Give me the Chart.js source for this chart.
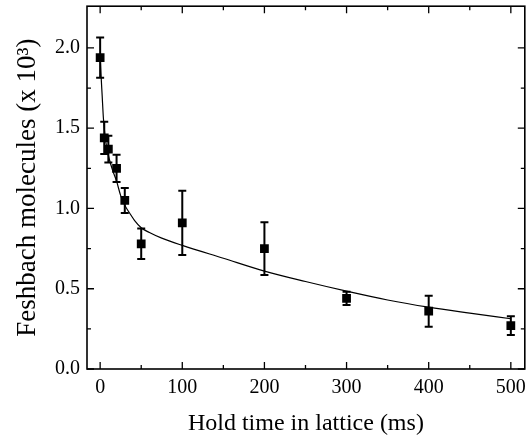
<!DOCTYPE html>
<html>
<head>
<meta charset="utf-8">
<script src="https://cdn.jsdelivr.net/npm/chart.js@4/dist/chart.umd.min.js"></script>
<style>
  html, body { margin: 0; padding: 0; background: #ffffff; }
  #wrap { width: 531px; height: 439px; }
</style>
</head>
<body>
<div id="wrap"><canvas id="c" width="531" height="439"></canvas></div>
<script>
// Measured data (hold time in ms, molecules in units of 10^3)
const holdTime  = [0, 5, 10, 20, 30, 50, 100, 200, 300, 400, 500];
const molecules = [1.94, 1.44, 1.37, 1.25, 1.05, 0.78, 0.91, 0.75, 0.44, 0.36, 0.27];
const errors    = [0.125, 0.10, 0.083, 0.085, 0.078, 0.095, 0.20, 0.164, 0.041, 0.097, 0.058];

// Fit curve
const fitTime  = [0, 1, 2.5, 4, 6, 8, 10, 15, 20, 25, 30, 36, 42, 50, 60, 75, 100, 150, 200, 250, 300, 350, 400, 450, 500];
const fitValue = [1.96, 1.84, 1.70, 1.56, 1.45, 1.38, 1.33, 1.24, 1.17, 1.08, 1.02, 0.97, 0.925, 0.88, 0.85, 0.815, 0.77, 0.69, 0.61, 0.545, 0.485, 0.43, 0.385, 0.348, 0.313];

// Axis ticks
const xMajorTicks = [0, 100, 200, 300, 400, 500];
const xMinorTicks = [50, 150, 250, 350, 450];
const yMajorTicks = [0, 0.5, 1.0, 1.5, 2.0];
const yMinorTicks = [0.25, 0.75, 1.25, 1.75];

const xLabel = 'Hold time in lattice (ms)';
const yLabel = 'Feshbach molecules (x 10\u00B3)';

const FONT = 'Liberation Serif, Times New Roman, serif';

const decorPlugin = {
  id: 'decor',
  beforeDatasetsDraw(chart) {
    const ctx = chart.ctx;
    const xs = chart.scales.x, ys = chart.scales.y;
    ctx.save();
    ctx.strokeStyle = '#000';
    ctx.lineWidth = 2;
    for (let i = 0; i < holdTime.length; i++) {
      const px = xs.getPixelForValue(holdTime[i]);
      const pt = ys.getPixelForValue(molecules[i] + errors[i]);
      const pb = ys.getPixelForValue(molecules[i] - errors[i]);
      ctx.beginPath();
      ctx.moveTo(px, pt); ctx.lineTo(px, pb);
      ctx.moveTo(px - 4, pt); ctx.lineTo(px + 4, pt);
      ctx.moveTo(px - 4, pb); ctx.lineTo(px + 4, pb);
      ctx.stroke();
    }
    ctx.restore();
  },
  afterDraw(chart) {
    const ctx = chart.ctx;
    const a = chart.chartArea;
    const xs = chart.scales.x, ys = chart.scales.y;
    ctx.save();
    ctx.strokeStyle = '#000';
    ctx.lineWidth = 1.6;
    ctx.strokeRect(a.left, a.top, a.right - a.left, a.bottom - a.top);
    ctx.lineWidth = 1.3;
    ctx.beginPath();
    const tick = (vals, len) => {
      vals.forEach(v => {
        const px = xs.getPixelForValue(v);
        ctx.moveTo(px, a.bottom); ctx.lineTo(px, a.bottom - len);
        ctx.moveTo(px, a.top); ctx.lineTo(px, a.top + len);
      });
    };
    const ytick = (vals, len) => {
      vals.forEach(v => {
        const py = ys.getPixelForValue(v);
        ctx.moveTo(a.left, py); ctx.lineTo(a.left + len, py);
        ctx.moveTo(a.right, py); ctx.lineTo(a.right - len, py);
      });
    };
    tick(xMajorTicks, 7); tick(xMinorTicks, 4);
    ytick(yMajorTicks, 7); ytick(yMinorTicks, 4);
    ctx.stroke();
    ctx.restore();
  }
};

new Chart(document.getElementById('c'), {
  type: 'scatter',
  data: {
    datasets: [
      {
        type: 'line',
        label: 'fit',
        data: fitTime.map((t, i) => ({ x: t, y: fitValue[i] })),
        borderColor: '#000',
        borderWidth: 1.2,
        pointRadius: 0,
        fill: false,
        cubicInterpolationMode: 'monotone'
      },
      {
        label: 'data',
        data: holdTime.map((t, i) => ({ x: t, y: molecules[i] })),
        pointStyle: 'rect',
        pointRadius: 6.2,
        pointHoverRadius: 6.2,
        backgroundColor: '#000',
        borderColor: '#000',
        borderWidth: 0
      }
    ]
  },
  options: {
    responsive: false,
    devicePixelRatio: 1,
    animation: false,
    layout: { padding: { top: 6, right: 1, left: 0, bottom: 0 } },
    plugins: { legend: { display: false }, tooltip: { enabled: false } },
    scales: {
      x: {
        type: 'linear',
        min: -16, max: 517,
        afterFit: s => { s.height = 70; s.paddingLeft = 0; s.paddingRight = 0; s.paddingTop = 0; s.paddingBottom = 0; },
        afterBuildTicks: s => { s.ticks = xMajorTicks.map(v => ({ value: v })); },
        grid: { display: false, drawTicks: false },
        border: { display: false },
        ticks: { color: '#000', font: { family: FONT, size: 20 }, padding: 7, maxRotation: 0,
                 callback: v => String(v) },
        title: { display: true, text: xLabel, color: '#000', font: { family: FONT, size: 24 },
                 padding: { top: 0, bottom: 1 } }
      },
      y: {
        type: 'linear',
        min: 0, max: 2.26,
        afterFit: s => { s.width = 87; s.paddingLeft = 0; s.paddingRight = 0; s.paddingTop = 0; s.paddingBottom = 0; },
        afterBuildTicks: s => { s.ticks = yMajorTicks.map(v => ({ value: v })); },
        grid: { display: false, drawTicks: false },
        border: { display: false },
        ticks: { color: '#000', font: { family: FONT, size: 20 }, padding: 7,
                 callback: v => Number(v).toFixed(1) },
        title: { display: true, text: yLabel, color: '#000', font: { family: FONT, size: 27 },
                 padding: { top: 12, bottom: 0 } }
      }
    }
  },
  plugins: [decorPlugin]
});
</script>
</body>
</html>
